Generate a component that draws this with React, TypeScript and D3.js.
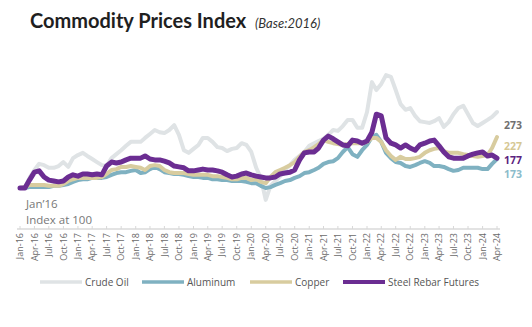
import React from "react";
import * as d3 from "d3";

const startMonth = new Date(2016, 0, 1);
const months: Date[] = d3.timeMonth.range(startMonth, new Date(2024, 4, 1));

const tickLabels = [
  "Jan-16","Apr-16","Jul-16","Oct-16","Jan-17","Apr-17","Jul-17","Oct-17",
  "Jan-18","Apr-18","Jul-18","Oct-18","Jan-19","Apr-19","Jul-19","Oct-19",
  "Jan-20","Apr-20","Jul-20","Oct-20","Jan-21","Apr-21","Jul-21","Oct-21",
  "Jan-22","Apr-22","Jul-22","Oct-22","Jan-23","Apr-23","Jul-23","Oct-23",
  "Jan-24","Apr-24",
];

const crudeOil = [
  100,100,123,141,155,152,146,146,150,159,148,168,175,180,173,166,159,152,150,168,
  177,186,196,205,205,205,214,223,232,227,225,232,243,221,186,180,189,198,214,214,
  205,193,191,184,189,191,202,198,182,146,123,73,105,116,127,141,152,164,173,182,
  196,202,207,212,221,232,230,241,255,255,237,237,273,341,323,337,357,353,323,291,
  278,282,264,252,250,248,252,259,239,250,268,282,287,268,248,241,248,255,262,273,
];

const aluminum = [
  100,100,102,102,102,102,102,105,105,107,109,114,118,120,120,123,123,123,125,130,
  134,136,136,139,141,134,136,143,148,143,136,134,132,132,130,127,125,125,123,123,
  120,120,118,118,116,116,116,114,111,111,105,100,102,107,111,116,118,123,127,134,
  136,141,146,155,159,161,168,182,193,177,171,186,198,216,221,205,180,168,159,157,
  150,148,152,157,161,157,150,150,148,143,139,141,146,146,146,146,143,143,155,166,
];

const copper = [
  100,102,107,107,107,107,105,105,105,109,116,120,123,123,123,123,123,125,132,141,
  143,148,148,150,148,146,141,150,152,150,141,136,134,134,134,132,130,130,130,130,
  127,127,125,123,120,120,123,123,118,120,114,111,125,136,141,146,152,159,171,182,
  186,193,200,209,205,202,200,198,200,202,202,202,205,214,214,205,186,173,164,171,
  166,166,168,171,180,186,189,191,184,180,180,180,177,175,173,171,173,175,191,216,
];

const steelRebar = [
  100,100,118,136,139,125,118,116,114,116,125,130,127,132,132,130,132,130,150,159,
  157,159,164,168,168,168,173,166,164,164,161,157,150,148,146,139,139,141,143,141,
  141,139,136,130,125,127,132,134,130,127,125,123,123,125,132,134,136,141,164,180,
  182,182,191,209,218,212,205,198,196,209,207,202,207,227,268,264,214,202,198,191,
  198,191,186,198,202,207,209,196,182,171,168,168,168,173,177,180,182,173,175,168,
];

const seriesNames = ["Crude Oil", "Aluminum", "Copper", "Steel Rebar Futures"];
const seriesColors = ["#dfe3e5", "#7fb1c1", "#d8cc9f", "#6b2d92"];
const seriesWidths = [4, 4, 4, 5];
const endLabels = ["273", "173", "227", "177"];
const endLabelColors = ["#6f6f6f", "#8bbccb", "#d6c894", "#5b2380"];

export default function App() {
  const W = 532, H = 327;
  const x = d3.scaleTime().domain([startMonth, new Date(2024, 3, 1)]).range([20, 497]);
  const y = d3.scaleLinear().domain([100, 273]).range([188, 112]);
  const allSeries = [crudeOil, aluminum, copper, steelRebar];
  const line = d3.line<number>()
    .x((_, i) => x(months[i]))
    .y((v) => y(v))
    .curve(d3.curveLinear);

  const tickDates = tickLabels.map((_, i) => d3.timeMonth.offset(startMonth, i * 3));
  const axisY = 229;
  const labelY = [125, 174.5, 146, 160];
  const font = "'Open Sans', sans-serif";

  const legendX = [40, 142, 250, 343];

  return (
    <svg width={W} height={H} style={{ position: "absolute", left: 0, top: 0, background: "#fff" }}>
      <text x={30} y={28} fontFamily="Lato, sans-serif" fontWeight={700} fontSize={20} fill="#1f1f1f">
        Commodity Prices Index
      </text>
      <text x={255} y={28} fontFamily="Lato, sans-serif" fontStyle="italic" fontSize={13} fill="#333">
        (Base:2016)
      </text>

      {/* axis */}
      <line x1={17} x2={500} y1={axisY} y2={axisY} stroke="#e3e3e3" strokeWidth={2} />
      {tickDates.map((d, i) => (
        <g key={i} transform={`translate(${x(d)},0)`}>
          <line y1={axisY - 3} y2={axisY} stroke="#d8d8d8" strokeWidth={1} />
          <text
            transform={`translate(0,${axisY + 4}) rotate(-90)`}
            textAnchor="end"
            dy="0.35em"
            fontFamily={font}
            fontSize={9}
            fill="#6a6a6a"
          >
            {tickLabels[i]}
          </text>
        </g>
      ))}

      {/* lines */}
      {allSeries.map((s, i) => (
        <path
          key={i}
          d={line(s) || ""}
          fill="none"
          stroke={seriesColors[i]}
          strokeWidth={seriesWidths[i]}
          strokeLinejoin="round"
          strokeLinecap="round"
        />
      ))}

      {/* end labels */}
      {endLabels.map((t, i) => (
        <text key={i} x={504} y={labelY[i]} dy="0.35em" fontFamily={font} fontWeight={700} fontSize={10.5} fill={endLabelColors[i]}>
          {t}
        </text>
      ))}

      {/* annotation */}
      <text x={26} y={208} fontFamily={font} fontSize={11.5} fill="#777">Jan’16</text>
      <text x={26} y={224} fontFamily={font} fontSize={11.5} fill="#777">Index at 100</text>

      {/* legend */}
      {seriesNames.map((n, i) => (
        <g key={n}>
          <line x1={legendX[i]} x2={legendX[i] + 42} y1={282} y2={282} stroke={seriesColors[i]} strokeWidth={seriesWidths[i] === 5 ? 4 : 3.5} />
          <text x={legendX[i] + 45} y={282} dy="0.35em" fontFamily={font} fontSize={10} fill="#555">{n}</text>
        </g>
      ))}
    </svg>
  );
}
